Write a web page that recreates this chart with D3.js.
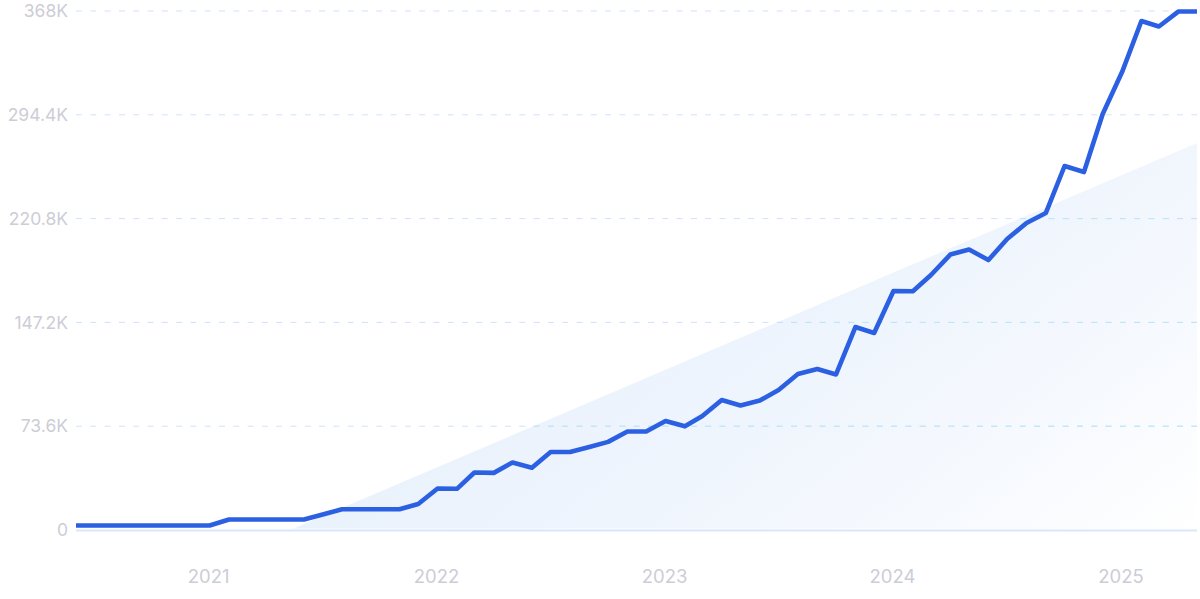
<!DOCTYPE html>
<html>
<head>
<meta charset="utf-8">
<script src="https://cdn.jsdelivr.net/npm/d3@7"></script>
<style>
  html, body { margin: 0; padding: 0; background: #fff; overflow: hidden; }
  text { font-family: Inter, "Noto Sans", sans-serif; }
</style>
</head>
<body>
<div id="plot"></div>
<script>
const startMonth = "2020-06";
// monthly search volume, in thousands
const volume = [
  3.2, 3.2, 3.2, 3.2, 3.2, 3.2, 3.2,
  3.2, 7.4, 7.4, 7.4, 7.4, 7.4, 11, 14.7, 14.7, 14.7, 14.7, 18.4,
  29.4, 29.2, 40.8, 40.5, 47.9, 44.1, 55.3, 55.3, 58.9, 62.5, 69.8, 69.8,
  77.3, 73.5, 80.8, 92.2, 88.3, 91.8, 99.3, 110.6, 114.2, 110.3, 143.9, 139.7,
  169.5, 169.3, 180.8, 195.3, 198.9, 191.4, 206.3, 217.7, 224.8, 258.1, 253.8, 295,
  324.7, 360.9, 357, 367.6, 367.6
];
const yTicks = [0, 73.6, 147.2, 220.8, 294.4, 368];
const yLabels = ["0", "73.6K", "147.2K", "220.8K", "294.4K", "368K"];
const xYears = ["2021", "2022", "2023", "2024", "2025"];
// straight edge of the pale wedge behind the line
const wedgeDates = ["2021-05-10", "2025-05-01"];
const wedgeValues = [0, 274.4];

const width = 1200, height = 599;
const margin = { left: 76, right: 3, top: 11, bottom: 69 };
const parseMonth = d3.utcParse("%Y-%m");
const parseDay = d3.utcParse("%Y-%m-%d");

const data = volume.map((v, i) => ({ date: d3.utcMonth.offset(parseMonth(startMonth), i), v }));

const x = d3.scaleUtc()
  .domain(d3.extent(data, d => d.date))
  .range([margin.left, width - margin.right]);
const y = d3.scaleLinear()
  .domain([0, 368])
  .range([height - margin.bottom, margin.top]);

const svg = d3.select("#plot").append("svg")
  .attr("width", width)
  .attr("height", height)
  .attr("viewBox", `0 0 ${width} ${height}`)
  .style("display", "block");

const wedge = wedgeDates.map((d, i) => ({ date: parseDay(d), v: wedgeValues[i] }));
const wedgeArea = d3.area().x(d => x(d.date)).y0(y(0)).y1(d => y(d.v));

const defs = svg.append("defs");
const grad = defs.append("linearGradient")
  .attr("id", "wedgeFill")
  .attr("x1", "0%").attr("y1", "45%")
  .attr("x2", "100%").attr("y2", "100%");
grad.append("stop").attr("offset", "0%").attr("stop-color", "#e5effc");
grad.append("stop").attr("offset", "50%").attr("stop-color", "#eff5fd");
grad.append("stop").attr("offset", "75%").attr("stop-color", "#f6f9fe");
grad.append("stop").attr("offset", "100%").attr("stop-color", "#ffffff");
defs.append("clipPath").attr("id", "wedgeClip")
  .append("path").datum(wedge).attr("d", wedgeArea);

svg.append("path")
  .datum(wedge)
  .attr("d", wedgeArea)
  .attr("fill", "url(#wedgeFill)");

// grid, a bit more cyan where it crosses the wedge
const drawGrid = (color, clip) => {
  const g = svg.append("g");
  if (clip) g.attr("clip-path", "url(#wedgeClip)");
  g.selectAll("line")
    .data(yTicks.filter(d => d > 0))
    .join("line")
    .attr("x1", margin.left)
    .attr("x2", width - margin.right)
    .attr("y1", d => y(d))
    .attr("y2", d => y(d))
    .attr("stroke", color)
    .attr("stroke-width", 1)
    .attr("stroke-dasharray", "6 8.3");
};
drawGrid("#d0e1fe", false);
drawGrid("#bce6fb", true);

// baseline with a white gap above it
svg.append("line")
  .attr("x1", margin.left)
  .attr("x2", width - margin.right)
  .attr("y1", y(0) - 1)
  .attr("y2", y(0) - 1)
  .attr("stroke", "#ffffff")
  .attr("stroke-width", 1);
svg.append("line")
  .attr("x1", margin.left)
  .attr("x2", width - margin.right)
  .attr("y1", y(0) + 0.5)
  .attr("y2", y(0) + 0.5)
  .attr("stroke", "#d9e7fc")
  .attr("stroke-width", 2);

// axis labels
const labelColor = "#cdcdd6";
const yAxis = d3.axisLeft(y).tickValues(yTicks).tickFormat((d, i) => yLabels[i]).tickSize(0).tickPadding(8);
const yG = svg.append("g").attr("transform", `translate(${margin.left},0)`).call(yAxis);
yG.select(".domain").remove();
yG.selectAll("text").attr("fill", labelColor).attr("font-size", 17.5).style("font-family", "Inter");

const xAxis = d3.axisBottom(x)
  .tickValues(xYears.map(d => parseMonth(d + "-01")))
  .tickFormat(d3.utcFormat("%Y"))
  .tickSize(0)
  .tickPadding(40);
const xG = svg.append("g").attr("transform", `translate(-1.5,${y(0)})`).call(xAxis);
xG.select(".domain").remove();
xG.selectAll("text").attr("fill", labelColor).attr("font-size", 18.5).style("font-family", "Inter");

svg.append("path")
  .datum(data)
  .attr("d", d3.line().x(d => x(d.date)).y(d => y(d.v)))
  .attr("fill", "none")
  .attr("stroke", "#2c60e2")
  .attr("stroke-width", 4.6)
  .attr("stroke-linejoin", "round");
</script>
</body>
</html>
